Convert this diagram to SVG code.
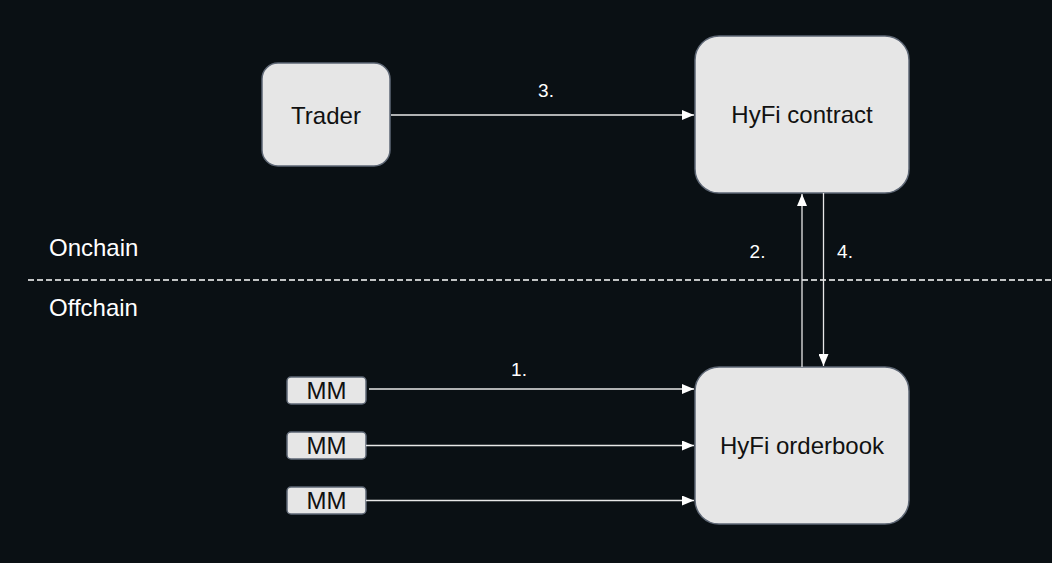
<svg xmlns="http://www.w3.org/2000/svg" width="1052" height="563" viewBox="0 0 1052 563">
<defs>
<style>
.box{fill:#e6e6e6;stroke:#5e6775;stroke-width:1.5}
.t{font-family:"Liberation Sans",Arial,sans-serif;font-size:24px;fill:#111111;text-anchor:middle}
.w{font-family:"Liberation Sans",Arial,sans-serif;fill:#ffffff}
.c{stroke:#e8e8e8;stroke-width:1.3;fill:none}
</style>
<marker id="ah" viewBox="0 0 12 10" refX="12" refY="5" markerWidth="12" markerHeight="10" markerUnits="userSpaceOnUse" orient="auto">
<path d="M0,0 L12,5 L0,10 Z" fill="#ffffff"/>
</marker>
</defs>
<rect width="1052" height="563" fill="#0a1014"/>
<line x1="28" y1="280" x2="1052" y2="280" stroke="#ffffff" stroke-width="1.3" stroke-dasharray="6 3"/>
<text class="w" x="49" y="256" font-size="24">Onchain</text>
<text class="w" x="49" y="316" font-size="24">Offchain</text>
<g id="trader"><rect class="box" x="262" y="63" width="128" height="103" rx="16"/><text class="t" x="326" y="124">Trader</text></g>
<g id="contract"><rect class="box" x="695" y="36" width="214" height="157" rx="24"/><text class="t" x="802" y="123">HyFi contract</text></g>
<g id="orderbook"><rect class="box" x="695" y="367" width="214" height="157" rx="24"/><text class="t" x="802" y="454">HyFi orderbook</text></g>
<g id="mm1"><rect class="box" x="287" y="377" width="79" height="27" rx="4"/><text class="t" x="326.5" y="399">MM</text></g>
<g id="mm2"><rect class="box" x="287" y="432" width="79" height="27" rx="4"/><text class="t" x="326.5" y="454">MM</text></g>
<g id="mm3"><rect class="box" x="287" y="487" width="79" height="27" rx="4"/><text class="t" x="326.5" y="509">MM</text></g>
<g id="connectors">
<line class="c" x1="391" y1="115" x2="694" y2="115" marker-end="url(#ah)"/>
<line class="c" x1="802" y1="367" x2="802" y2="194" marker-end="url(#ah)"/>
<line class="c" x1="823.5" y1="193" x2="823.5" y2="366" marker-end="url(#ah)"/>
<line class="c" x1="369" y1="389" x2="694" y2="389" marker-end="url(#ah)"/>
<line class="c" x1="366" y1="445.5" x2="694" y2="445.5" marker-end="url(#ah)"/>
<line class="c" x1="366" y1="500.5" x2="694" y2="500.5" marker-end="url(#ah)"/>
<text class="w" x="546" y="97" font-size="19" text-anchor="middle">3.</text>
<text class="w" x="757.5" y="258" font-size="19" text-anchor="middle">2.</text>
<text class="w" x="845" y="258" font-size="19" text-anchor="middle">4.</text>
<text class="w" x="519" y="376" font-size="19" text-anchor="middle">1.</text>
</g>
</svg>
